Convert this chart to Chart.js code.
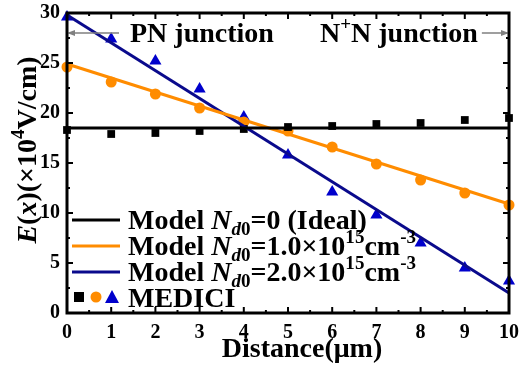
<!DOCTYPE html>
<html>
<head>
<meta charset="utf-8">
<script src="https://cdn.jsdelivr.net/npm/chart.js@4"></script>
<style>
  html, body { margin: 0; padding: 0; background: #fff; }
  canvas { display: block; }
</style>
</head>
<body>
<canvas id="fieldChart" width="519" height="368"></canvas>
<script>
// distance positions (um)
var distance = [0, 1, 2, 3, 4, 5, 6, 7, 8, 9, 10]

// model lines: endpoints of the analytic field at x = 0 and x = 10
var modelX = [0, 10]
var modelIdeal = [18.5, 18.5]
var modelNd1 = [24.9, 10.9]
var modelNd2 = [29.8, 2.0]

// MEDICI simulation points
var mediciIdeal = [18.3, 17.9, 18.0, 18.2, 18.4, 18.6, 18.7, 18.9, 19.0, 19.3, 19.5]
var mediciNd1 = [24.6, 23.1, 21.9, 20.5, 19.1, 18.2, 16.6, 14.9, 13.3, 12.0, 10.8]
var mediciNd2 = [29.6, 27.4, 25.2, 22.4, 19.6, 15.8, 12.1, 9.8, 7.0, 4.5, 3.2]

var xTicks = [0, 1, 2, 3, 4, 5, 6, 7, 8, 9, 10]
var yTicks = [0, 5, 10, 15, 20, 25, 30]

var BLACK = "#000000"
var ORANGE = "#ff8c00"
var BLUE = "#0a0a8c"
var SERIF = '"Liberation Serif", "Times New Roman", serif'

function pts(xs, ys) {
  return xs.map(function (x, i) { return { x: x, y: ys[i] } })
}

function lineSet(ys, color) {
  return { data: pts(modelX, ys), showLine: true, borderColor: color, borderWidth: 3, pointRadius: 0, fill: false }
}

function markSet(ys, color, style, r) {
  return { data: pts(distance, ys), showLine: false, backgroundColor: color, borderColor: color, pointStyle: style, pointRadius: r, borderWidth: 0 }
}

// text piece styles: n normal, i italic, sub / subi subscript, sup superscript
function runFont(kind, size) {
  var small = kind === "sub" || kind === "subi" || kind === "sup"
  var italic = kind === "i" || kind === "subi"
  return (italic ? "italic " : "") + "bold " + (small ? size * 0.68 : size) + "px " + SERIF
}

function drawRuns(ctx, x, y, runs, size) {
  ctx.textBaseline = "alphabetic"
  ctx.textAlign = "left"
  runs.forEach(function (r) {
    var kind = r[1] || "n"
    var dy = 0
    if (kind === "sub" || kind === "subi") dy = size * 0.22
    if (kind === "sup") dy = -size * 0.42
    ctx.font = runFont(kind, size)
    ctx.fillText(r[0], x, y + dy)
    x += ctx.measureText(r[0]).width
  })
  return x
}

function runsWidth(ctx, runs, size) {
  var total = 0
  runs.forEach(function (r) {
    ctx.font = runFont(r[1] || "n", size)
    total += ctx.measureText(r[0]).width
  })
  return total
}

// fixed plot box: no extra room reserved for overhanging tick labels
function noOverhang(s) {
  s.paddingTop = 0
  s.paddingBottom = 0
  s.paddingLeft = 0
  s.paddingRight = 0
}

var decorations = {
  id: "decorations",
  afterDatasetsDraw: function (chart) {
    var ctx = chart.ctx
    var ca = chart.chartArea
    var xs = chart.scales.x, ys = chart.scales.y
    ctx.save()

    // junction labels with arrows
    ctx.fillStyle = BLACK
    drawRuns(ctx, 130, 42, [["PN junction"]], 28)
    var endX = drawRuns(ctx, 320, 42, [["N"], ["+", "sup"], ["N junction"]], 28)
    ctx.strokeStyle = "#808080"
    ctx.fillStyle = "#808080"
    ctx.lineWidth = 1.5
    ctx.beginPath()
    ctx.moveTo(119, 33); ctx.lineTo(ca.left + 2, 33)
    ctx.moveTo(endX + 4, 33); ctx.lineTo(ca.right - 2, 33)
    ctx.stroke()
    ctx.beginPath()
    ctx.moveTo(ca.left, 33); ctx.lineTo(ca.left + 8, 30); ctx.lineTo(ca.left + 8, 36); ctx.closePath()
    ctx.moveTo(ca.right, 33); ctx.lineTo(ca.right - 8, 30); ctx.lineTo(ca.right - 8, 36); ctx.closePath()
    ctx.fill()

    // legend
    var nd = [["Model "], ["N", "i"], ["d", "subi"], ["0", "sub"]]
    var rows = [
      { color: BLACK, y: 220, runs: nd.concat([["=0 (Ideal)"]]) },
      { color: ORANGE, y: 246, runs: nd.concat([["=1.0\u00d710"], ["15", "sup"], ["cm"], ["-3", "sup"]]) },
      { color: BLUE, y: 272, runs: nd.concat([["=2.0\u00d710"], ["15", "sup"], ["cm"], ["-3", "sup"]]) }
    ]
    rows.forEach(function (r) {
      ctx.strokeStyle = r.color
      ctx.lineWidth = 3
      ctx.beginPath()
      ctx.moveTo(72, r.y); ctx.lineTo(120, r.y)
      ctx.stroke()
      ctx.fillStyle = BLACK
      drawRuns(ctx, 128, r.y + 9, r.runs, 28)
    })
    ctx.fillStyle = BLACK
    ctx.fillRect(74, 292, 10, 10)
    ctx.fillStyle = ORANGE
    ctx.beginPath(); ctx.arc(96, 297, 5.5, 0, Math.PI * 2); ctx.fill()
    ctx.fillStyle = "#0000cc"
    ctx.beginPath(); ctx.moveTo(112, 290); ctx.lineTo(119, 303); ctx.lineTo(105, 303); ctx.closePath(); ctx.fill()
    ctx.fillStyle = BLACK
    drawRuns(ctx, 128, 307, [["MEDICI"]], 28)

    // frame
    ctx.strokeStyle = BLACK
    ctx.lineWidth = 3
    ctx.strokeRect(ca.left, ca.top, ca.right - ca.left, ca.bottom - ca.top)

    // inward ticks, major and minor
    ctx.lineWidth = 2
    ctx.beginPath()
    for (var v = 0; v <= 10.001; v += 0.5) {
      var px = xs.getPixelForValue(v)
      var len = Math.abs(v - Math.round(v)) < 0.01 ? 6 : 3
      ctx.moveTo(px, ca.bottom); ctx.lineTo(px, ca.bottom - len)
      ctx.moveTo(px, ca.top); ctx.lineTo(px, ca.top + len)
    }
    for (var w = 0; w <= 30.001; w += 2.5) {
      var py = ys.getPixelForValue(w)
      var l2 = Math.abs(w % 5) < 0.01 ? 6 : 3
      ctx.moveTo(ca.left, py); ctx.lineTo(ca.left + l2, py)
      ctx.moveTo(ca.right, py); ctx.lineTo(ca.right - l2, py)
    }
    ctx.stroke()

    // axis titles
    ctx.fillStyle = BLACK
    var runsX = [["Distance(\u03bcm)"]]
    drawRuns(ctx, 302 - runsWidth(ctx, runsX, 28) / 2, 357, runsX, 28)

    ctx.save()
    ctx.translate(36, 150)
    ctx.rotate(-Math.PI / 2)
    var runsY = [["E", "i"], ["("], ["x", "i"], [")(\u00d710"], ["4", "sup"], ["V/cm)"]]
    drawRuns(ctx, -runsWidth(ctx, runsY, 28) / 2, 0, runsY, 28)
    ctx.restore()

    ctx.restore()
  }
}

new Chart(document.getElementById("fieldChart"), {
  type: "scatter",
  data: {
    datasets: [
      lineSet(modelIdeal, BLACK),
      lineSet(modelNd1, ORANGE),
      lineSet(modelNd2, BLUE),
      markSet(mediciIdeal, BLACK, "rect", 5.5),
      markSet(mediciNd1, ORANGE, "circle", 5.5),
      markSet(mediciNd2, "#0000cc", "triangle", 7)
    ]
  },
  options: {
    responsive: false,
    animation: false,
    clip: false,
    layout: { padding: { top: 13, right: 10, left: 0, bottom: 0 } },
    plugins: { legend: { display: false }, tooltip: { enabled: false } },
    scales: {
      x: {
        type: "linear",
        min: 0,
        max: 10,
        afterBuildTicks: function (s) { s.ticks = xTicks.map(function (v) { return { value: v } }) },
        afterFit: function (s) { s.height = 55; noOverhang(s) },
        grid: { display: false, drawTicks: false },
        border: { display: false },
        ticks: { color: BLACK, font: { family: SERIF, size: 20, weight: "bold" }, padding: 8, maxRotation: 0 }
      },
      y: {
        min: 0,
        max: 30,
        afterBuildTicks: function (s) { s.ticks = yTicks.map(function (v) { return { value: v } }) },
        afterFit: function (s) { s.width = 67; noOverhang(s) },
        grid: { display: false, drawTicks: false },
        border: { display: false },
        ticks: { color: BLACK, font: { family: SERIF, size: 20, weight: "bold" }, padding: 7 }
      }
    }
  },
  plugins: [decorations]
})
</script>
</body>
</html>
